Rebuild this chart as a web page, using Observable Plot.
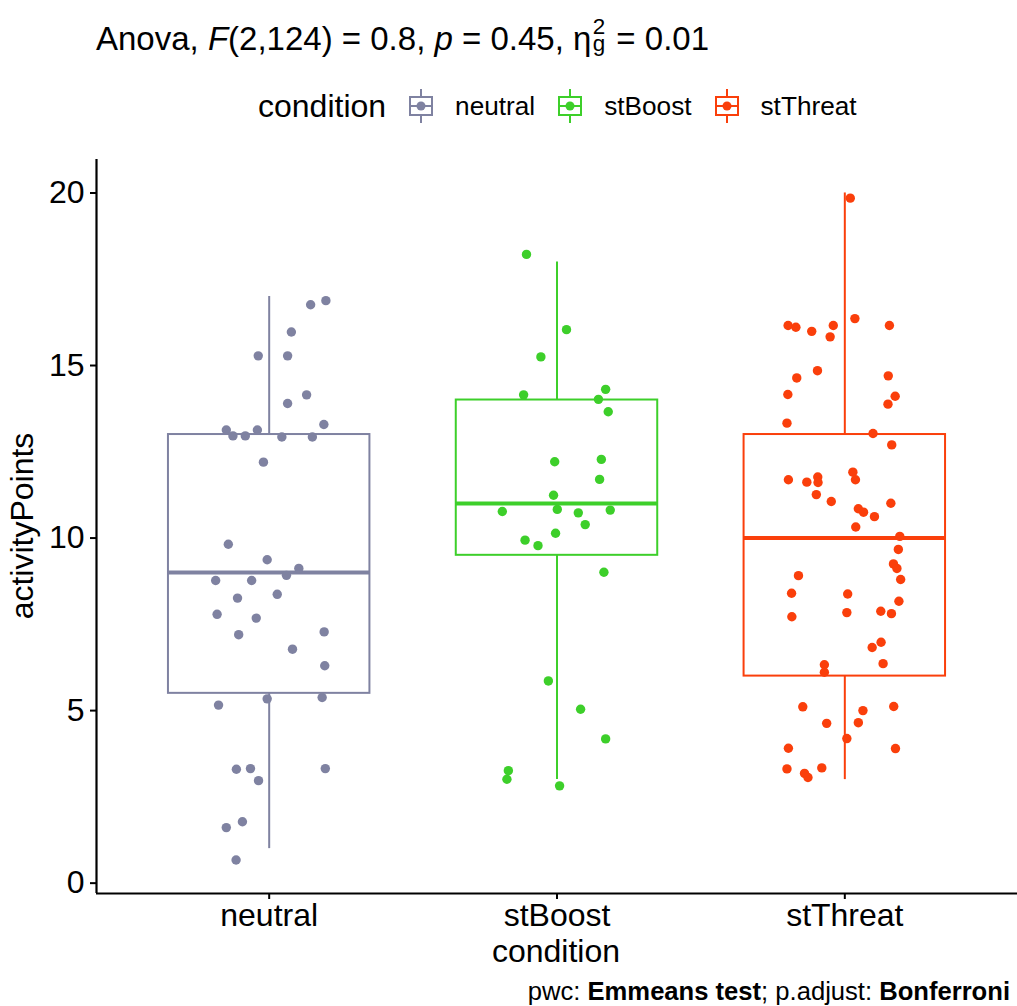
<!DOCTYPE html>
<html>
<head>
<meta charset="utf-8">
<script src="https://cdn.jsdelivr.net/npm/d3@7"></script>
<script src="https://cdn.jsdelivr.net/npm/@observablehq/plot@0.6"></script>
<style>
  html, body { margin: 0; padding: 0; background: #fff; }
  body { font-family: "Liberation Sans", Arial, Helvetica, sans-serif; color: #000; }
  #wrap { position: relative; width: 1017px; height: 1006px; overflow: hidden; }
  #wrap svg.plot { position: absolute; left: 0; top: 0; }
  .abs { position: absolute; white-space: nowrap; line-height: 1; }
  #title { left: 96px; top: 17px; font-size: 33px; }
  #title i { font-style: italic; }
  .ss { display: inline-block; position: relative; width: 0.48em; height: 1em; vertical-align: baseline; }
  .ss .sup { position: absolute; left: 0.06em; top: 0.10em; font-size: 0.68em; line-height: 0.7; }
  .ss .sub { position: absolute; left: 0.06em; top: 0.86em; font-size: 0.68em; line-height: 0.7; }
  #legend { left: 258px; top: 89px; font-size: 32px; display: flex; align-items: center; }
  #legend .item { display: flex; align-items: center; font-size: 26.2px; margin-left: 21px; }
  #legend .item svg { margin-right: 20px; }
  #caption { right: 7px; top: 979px; font-size: 25.6px; }
  #xlabel { left: 356px; width: 400px; text-align: center; top: 935px; font-size: 32px; }
  #ylabel { left: 22px; top: 526px; font-size: 32px; transform: translate(-50%, -50%) rotate(-90deg); }
</style>
</head>
<body>
<div id="wrap">
  <div class="abs" id="title">Anova, <i>F</i>(2,124) = 0.8, <i>p</i> = 0.45, η<span class="ss"><span class="sup">2</span><span class="sub">g</span></span> = 0.01</div>
  <div class="abs" id="legend"><span>condition</span></div>
  <div class="abs" id="xlabel">condition</div>
  <div class="abs" id="ylabel">activityPoints</div>
  <div class="abs" id="caption">pwc: <b>Emmeans test</b>; p.adjust: <b>Bonferroni</b></div>
</div>
<script>
// ---- data ----
const categories = ["neutral", "stBoost", "stThreat"];
const colors = ["#7F82A1", "#3DCF2A", "#FA3F0B"];
const yTicks = [0, 5, 10, 15, 20];

// box statistics per condition
const boxLower = [1, 3, 3];        // lower whisker end
const boxQ1 = [5.5, 9.5, 6];
const boxMedian = [9, 11, 10];
const boxQ3 = [13, 14, 13];
const boxUpper = [17, 18, 20];     // upper whisker end

// jittered observations (values and horizontal jitter, in category units)
const neutralValues = [16.88,16.76,15.97,15.28,15.28,14.15,13.90,13.29,13.13,13.13,12.96,12.96,12.93,12.93,12.20,9.82,9.37,9.12,8.92,8.77,8.77,8.26,8.37,7.79,7.68,7.20,7.28,6.78,6.30,5.34,5.38,5.16,3.30,3.32,3.32,2.97,1.78,1.61,0.67];
const neutralJitter = [0.197,0.144,0.077,-0.038,0.064,0.130,0.064,0.190,-0.149,-0.041,-0.126,-0.083,0.044,0.150,-0.020,-0.142,-0.007,0.103,0.060,-0.186,-0.061,-0.110,0.028,-0.181,-0.045,-0.106,0.191,0.081,0.193,-0.007,0.184,-0.176,-0.114,-0.065,0.195,-0.037,-0.093,-0.149,-0.115];
const stBoostValues = [18.22,16.04,15.25,14.15,14.31,14.02,13.66,12.21,12.28,11.70,11.24,10.77,10.83,10.73,10.81,10.39,10.14,9.94,9.78,9.01,5.86,5.04,4.18,3.26,3.01,2.82];
const stBoostJitter = [-0.106,0.033,-0.056,-0.116,0.169,0.144,0.178,-0.008,0.154,0.148,-0.012,-0.190,0.001,0.074,0.185,0.098,-0.005,-0.111,-0.066,0.163,-0.030,0.082,0.169,-0.169,-0.174,0.009];
const stThreatValues = [19.85,16.36,16.16,16.11,15.99,16.16,15.83,16.16,14.85,14.64,14.70,14.11,13.88,14.16,13.33,13.03,12.70,11.69,11.62,11.77,11.61,11.91,11.69,11.26,11.06,11.01,10.85,10.75,10.62,10.32,10.05,9.67,9.25,9.12,8.80,8.91,8.40,8.38,8.17,7.72,7.84,7.88,7.81,6.98,6.83,6.36,6.33,6.11,5.11,5.12,5.00,4.63,4.65,4.19,3.91,3.90,3.31,3.34,3.18,3.06];
const stThreatJitter = [0.019,0.035,-0.197,-0.170,-0.115,-0.040,-0.051,0.155,-0.095,-0.167,0.151,0.175,0.150,-0.198,-0.201,0.098,0.163,-0.196,-0.132,-0.094,-0.093,0.028,0.037,-0.099,-0.047,0.160,0.047,0.065,0.103,0.038,0.191,0.186,0.169,0.181,0.194,-0.161,-0.185,0.010,0.188,-0.184,0.007,0.125,0.162,0.126,0.095,0.133,-0.071,-0.071,-0.146,0.170,0.063,-0.063,0.047,0.007,-0.196,0.176,-0.201,-0.080,-0.140,-0.128];

// ---- build tables ----
const boxWidth = 0.7;
const boxes = categories.map((c, i) => ({
  cond: c, pos: i + 1,
  lo: boxLower[i], q1: boxQ1[i], med: boxMedian[i], q3: boxQ3[i], hi: boxUpper[i]
}));
const groups = [[neutralValues, neutralJitter], [stBoostValues, stBoostJitter], [stThreatValues, stThreatJitter]];
const points = [];
groups.forEach(([vals, jit], i) => vals.forEach((v, k) => points.push({cond: categories[i], pos: i + 1, value: v, jitter: jit[k]})));

const xDomain = [0.4, categories.length + 0.6];
const yDomain = [-0.3, 20.97];

const plot = Plot.plot({
  width: 1017,
  height: 1006,
  marginLeft: 96,
  marginRight: 0,
  marginTop: 159,
  marginBottom: 113,
  style: {fontFamily: '"Liberation Sans", Arial, sans-serif', color: "#000", background: "transparent"},
  x: {type: "linear", domain: xDomain, axis: null},
  y: {domain: yDomain, axis: null},
  color: {domain: categories, range: colors},
  marks: [
    Plot.axisY({ticks: yTicks, tickSize: 6, tickPadding: 6, fontSize: 32, label: null, strokeWidth: 2}),
    Plot.axisX({ticks: categories.map((c, i) => i + 1), tickFormat: d => categories[d - 1], tickSize: 6, tickPadding: 4, fontSize: 32, label: null, strokeWidth: 2}),
    Plot.ruleX([xDomain[0]], {stroke: "#000", strokeWidth: 2.2}),
    Plot.ruleY([yDomain[0]], {stroke: "#000", strokeWidth: 2.2}),
    Plot.ruleX(boxes, {x: "pos", y1: "lo", y2: "q1", stroke: "cond", strokeWidth: 2}),
    Plot.ruleX(boxes, {x: "pos", y1: "q3", y2: "hi", stroke: "cond", strokeWidth: 2}),
    Plot.rect(boxes, {x1: d => d.pos - boxWidth / 2, x2: d => d.pos + boxWidth / 2, y1: "q1", y2: "q3", fill: "none", stroke: "cond", strokeWidth: 2, inset: 0}),
    Plot.ruleY(boxes, {y: "med", x1: d => d.pos - boxWidth / 2, x2: d => d.pos + boxWidth / 2, stroke: "cond", strokeWidth: 4}),
    Plot.dot(points, {x: d => d.pos + d.jitter, y: "value", r: 4.7, fill: "cond", stroke: "none"})
  ]
});
plot.classList.add("plot");
document.getElementById("wrap").prepend(plot);

// legend keys
const legend = document.getElementById("legend");
categories.forEach((c, i) => {
  const item = document.createElement("span");
  item.className = "item";
  const col = colors[i];
  item.innerHTML = `<svg width="28" height="34" viewBox="0 0 28 34">
    <line x1="14" y1="0" x2="14" y2="34" stroke="${col}" stroke-width="2"/>
    <rect x="3" y="8" width="22" height="18" fill="#fff" stroke="${col}" stroke-width="2"/>
    <line x1="3" y1="17" x2="25" y2="17" stroke="${col}" stroke-width="2"/>
    <circle cx="14" cy="17" r="4.5" fill="${col}"/>
  </svg><span>${c}</span>`;
  legend.appendChild(item);
});
</script>
</body>
</html>
